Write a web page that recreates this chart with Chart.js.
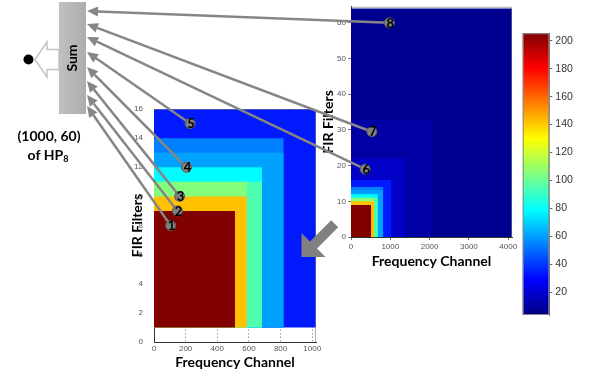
<!DOCTYPE html>
<html>
<head>
<meta charset="utf-8">
<script src="https://cdn.jsdelivr.net/npm/chart.js@4.4.1/dist/chart.umd.min.js"></script>
<style>
  body { margin: 0; background: #fff; }
  #wrap { position: relative; width: 589px; height: 375px; overflow: hidden; }
  #wrap canvas { position: absolute; left: 0; top: 0; }
</style>
</head>
<body>
<div id="wrap">
  <canvas id="leftChart" width="589" height="375"></canvas>
  <canvas id="rightChart" width="589" height="375"></canvas>
  <canvas id="barChart" width="589" height="375"></canvas>
  <canvas id="deco" width="589" height="375"></canvas>
</div>
<script>
// nested blocks, smallest first (channels x filters -> value)
const blockChannels = [512, 587, 587, 683, 683, 820, 820, 1024, 1388, 2048, 4096];
const blockFilters  = [9, 10, 11, 11, 12, 13, 14, 16, 22, 33, 64];
const blockValues   = [205, 142, 105, 95, 79, 61, 54, 34, 18, 11, 7];

// numbered points (1-5 left plot, 6-8 right plot)
const pointLabels   = ['1', '2', '3', '4', '5', '6', '7', '8'];
const pointChannels = [105, 148, 162, 205, 228, 360, 530, 975];
const pointFilters  = [8, 9, 10, 12, 15, 19, 29.5, 60];

const leftXTicks  = [0, 200, 400, 600, 800, 1000];
const leftYTicks  = [0, 2, 4, 6, 8, 10, 12, 14, 16];
const rightXTicks = [0, 1000, 2000, 3000, 4000];
const rightYTicks = [0, 10, 20, 30, 40, 50, 60];
const barTicks    = [20, 40, 60, 80, 100, 120, 140, 160, 180, 200];
const colorMin = 3.8, colorMax = 205.3;

// arrow tips on the Sum box (pixels)
const tipX = 87;
const tipY = [106, 95, 81, 67, 52, 37, 24, 11];

function jetRGB(v) {
  const t = Math.min(1, Math.max(0, (v - colorMin) / (colorMax - colorMin)));
  const c = k => Math.round(255 * Math.min(1, Math.max(0, 1.5 - Math.abs(4 * t - k))));
  return 'rgb(' + c(3) + ',' + c(2) + ',' + c(1) + ')';
}

function blockSets(n, base) {
  const sets = [];
  for (let i = 0; i < n; i++) {
    sets.push({
      data: [{x: 0, y: blockFilters[i]}, {x: blockChannels[i], y: blockFilters[i]}],
      backgroundColor: jetRGB(blockValues[i]),
      borderColor: 'rgba(0,0,0,0)',
      borderWidth: 0,
      pointRadius: 0,
      fill: {value: base}
    });
  }
  return sets;
}

function markerSet(from, to) {
  const data = [];
  for (let i = from; i < to; i++) data.push({x: pointChannels[i], y: pointFilters[i]});
  return {
    data: data,
    showLine: false,
    fill: false,
    pointRadius: 5,
    pointBackgroundColor: '#7f7f7f',
    pointBorderColor: '#5a5a5a',
    pointBorderWidth: 1
  };
}

function drawArrow(ctx, x0, y0, x1, y1) {
  const a = Math.atan2(y1 - y0, x1 - x0);
  const head = 11, half = 5;
  const bx = x1 - head * Math.cos(a), by = y1 - head * Math.sin(a);
  ctx.strokeStyle = '#868686';
  ctx.fillStyle = '#868686';
  ctx.lineWidth = 2.5;
  ctx.beginPath();
  ctx.moveTo(x0, y0);
  ctx.lineTo(bx, by);
  ctx.stroke();
  ctx.beginPath();
  ctx.moveTo(x1, y1);
  ctx.lineTo(bx + half * Math.sin(a), by - half * Math.cos(a));
  ctx.lineTo(bx - half * Math.sin(a), by + half * Math.cos(a));
  ctx.closePath();
  ctx.fill();
}

function annotate(from) {
  return {
    id: 'annotate',
    beforeDatasetDraw(chart, args) {
      if (args.index !== 0) return;
      const ctx = chart.ctx;
      ctx.save();
      args.meta.data.forEach((pt, j) => drawArrow(ctx, pt.x, pt.y, tipX, tipY[from + j]));
      ctx.restore();
    },
    afterDatasetsDraw(chart) {
      const ctx = chart.ctx;
      const a = chart.chartArea;
      ctx.save();
      // box edges (top/right)
      ctx.strokeStyle = 'rgba(120,120,140,0.6)';
      ctx.lineWidth = 1;
      ctx.beginPath();
      ctx.moveTo(a.left, a.top + 0.5);
      ctx.lineTo(a.right - 0.5, a.top + 0.5);
      ctx.lineTo(a.right - 0.5, a.bottom);
      ctx.stroke();
      // point numbers
      ctx.font = 'bold 13px Lato';
      ctx.fillStyle = '#000';
      ctx.textAlign = 'center';
      ctx.textBaseline = 'middle';
      chart.getDatasetMeta(0).data.forEach((pt, j) => ctx.fillText(pointLabels[from + j], pt.x + 1, pt.y + 0.5));
      ctx.restore();
    }
  };
}

const tickFont = {family: 'Liberation Sans', size: 8};
const titleFont = {family: 'Lato', size: 14, weight: 'bold'};
const plain = v => String(v);

function setTicks(list) {
  return s => { s.ticks = list.map(v => ({value: v})); };
}

const common = {
  responsive: false,
  animation: false,
  devicePixelRatio: 1,
  events: [],
  plugins: {legend: {display: false}, tooltip: {enabled: false}}
};

// left plot: 0..1024 channels, 0..16 filters
new Chart(document.getElementById('leftChart'), {
  type: 'line',
  data: {datasets: [markerSet(0, 5)].concat(blockSets(8, 1))},
  options: Object.assign({}, common, {
    layout: {padding: {left: 128.6, top: 109, right: 273, bottom: 0}},
    scales: {
      x: {
        type: 'linear', min: 0, max: 1024,
        afterBuildTicks: setTicks(leftXTicks),
        afterFit: s => { s.height = 33; },
        ticks: {font: tickFont, color: '#555', padding: 1.5, maxRotation: 0, callback: plain},
        grid: {color: '#9a9a9a', drawTicks: false},
        border: {display: true, color: '#333', dash: [1.5, 2]},
        title: {display: true, text: 'Frequency Channel', font: titleFont, color: '#000', padding: {top: 0, bottom: 4.6}}
      },
      y: {
        type: 'linear', min: 0, max: 16,
        afterBuildTicks: setTicks(leftYTicks),
        afterFit: s => { s.width = 25.4; },
        ticks: {font: tickFont, color: '#555', padding: 3, callback: plain},
        grid: {display: false},
        border: {display: true, color: '#333'},
        title: {display: true, text: 'FIR Filters', font: titleFont, color: '#000', padding: 0}
      }
    }
  }),
  plugins: [annotate(0)]
});

// right plot: 0..4096 channels, 0..64 filters
new Chart(document.getElementById('rightChart'), {
  type: 'line',
  data: {datasets: [markerSet(5, 8)].concat(blockSets(11, 0))},
  options: Object.assign({}, common, {
    layout: {padding: {left: 319.6, top: 6, right: 77, bottom: 103}},
    scales: {
      x: {
        type: 'linear', min: 0, max: 4096,
        afterBuildTicks: setTicks(rightXTicks),
        afterFit: s => { s.height = 35; },
        ticks: {font: tickFont, color: '#555', padding: 2, maxRotation: 0, callback: plain},
        grid: {drawOnChartArea: false, tickLength: 3, color: '#777'},
        border: {display: true, color: '#333'},
        title: {display: true, text: 'Frequency Channel', font: titleFont, color: '#000', padding: {top: 0, bottom: 2.6}}
      },
      y: {
        type: 'linear', min: 0, max: 64.5,
        afterBuildTicks: setTicks(rightYTicks),
        afterFit: s => { s.width = 31.4; },
        ticks: {font: tickFont, color: '#555', padding: 2, callback: plain},
        grid: {drawOnChartArea: false, tickLength: 3, color: '#777'},
        border: {display: true, color: '#333'},
        title: {display: true, text: 'FIR Filters', font: titleFont, color: '#000', padding: 0}
      }
    }
  }),
  plugins: [annotate(5)]
});

// colour bar
new Chart(document.getElementById('barChart'), {
  type: 'line',
  data: {datasets: []},
  options: Object.assign({}, common, {
    layout: {padding: {left: 522.7, top: 33.3, right: 9.7, bottom: 60}},
    scales: {
      x: {type: 'linear', display: false, min: 0, max: 1},
      y: {
        type: 'linear', position: 'right', min: colorMin, max: colorMax,
        afterBuildTicks: setTicks(barTicks),
        afterFit: s => { s.width = 30; },
        ticks: {font: {family: 'Liberation Sans', size: 10.5}, color: '#333', padding: 3, callback: plain},
        grid: {drawOnChartArea: false, tickLength: 3, color: '#666'},
        border: {display: true, color: '#888'}
      }
    }
  }),
  plugins: [{
    id: 'jetbar',
    beforeDatasetsDraw(chart) {
      const ctx = chart.ctx;
      const a = chart.chartArea;
      const y = chart.scales.y;
      const g = ctx.createLinearGradient(0, y.getPixelForValue(colorMin), 0, y.getPixelForValue(colorMax));
      for (let k = 0; k <= 8; k++) {
        g.addColorStop(k / 8, jetRGB(colorMin + k / 8 * (colorMax - colorMin)));
      }
      ctx.save();
      ctx.fillStyle = g;
      ctx.fillRect(a.left, a.top, a.right - a.left, a.bottom - a.top);
      ctx.strokeStyle = '#888';
      ctx.lineWidth = 1;
      ctx.strokeRect(a.left + 0.5, a.top + 0.5, a.right - a.left - 1, a.bottom - a.top - 1);
      ctx.restore();
    }
  }]
});

// Sum box, output arrow, caption, big arrow
const d = document.getElementById('deco').getContext('2d');
const sg = d.createLinearGradient(59, 0, 86, 0);
sg.addColorStop(0, '#c0c0c0');
sg.addColorStop(1, '#adadad');
d.fillStyle = sg;
d.fillRect(59, 2, 27, 112);

d.save();
d.translate(72, 58);
d.rotate(-Math.PI / 2);
d.font = 'bold 14px Lato';
d.fillStyle = '#000';
d.textAlign = 'center';
d.textBaseline = 'middle';
d.fillText('Sum', 0, 0);
d.restore();

d.beginPath();
d.moveTo(35, 59.5);
d.lineTo(47, 42);
d.lineTo(47, 49.5);
d.lineTo(59, 49.5);
d.lineTo(59, 69.5);
d.lineTo(47, 69.5);
d.lineTo(47, 77);
d.closePath();
d.fillStyle = '#fff';
d.fill();
d.strokeStyle = '#c4c4c4';
d.lineWidth = 1.5;
d.stroke();

d.beginPath();
d.arc(28.5, 59.5, 5, 0, Math.PI * 2);
d.fillStyle = '#000';
d.fill();

d.font = 'bold 14px Lato';
d.textAlign = 'center';
d.textBaseline = 'middle';
d.fillText('(1000, 60)', 49, 136);
const w1 = d.measureText('of HP').width;
d.font = 'bold 9px Lato';
const w2 = d.measureText('8').width;
d.textAlign = 'left';
d.font = 'bold 14px Lato';
d.fillText('of HP', 48 - (w1 + w2) / 2, 155);
d.font = 'bold 9px Lato';
d.fillText('8', 48 - (w1 + w2) / 2 + w1, 159);

d.beginPath();
d.moveTo(301.5, 257);
d.lineTo(301.5, 233);
d.lineTo(310, 241.5);
d.lineTo(331.2, 220.3);
d.lineTo(338.2, 227.3);
d.lineTo(317, 248.5);
d.lineTo(325.5, 257);
d.closePath();
d.fillStyle = '#808080';
d.fill();
</script>
</body>
</html>
